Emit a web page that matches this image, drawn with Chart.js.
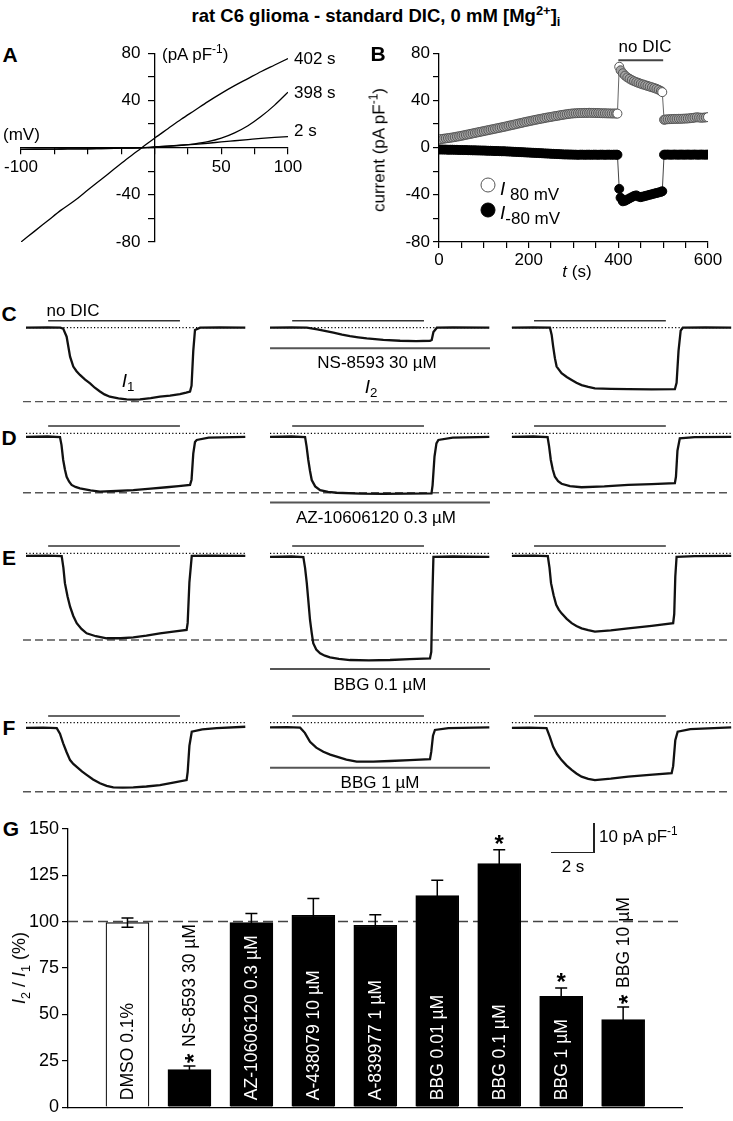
<!DOCTYPE html>
<html>
<head>
<meta charset="utf-8">
<title>rat C6 glioma - standard DIC, 0 mM Mg</title>
<script src="https://cdn.jsdelivr.net/npm/chart.js"></script>
<style>
  body { margin: 0; background: #fff; }
  #fig { position: relative; width: 733px; height: 1121px; overflow: hidden;
         font-family: 'Liberation Sans', Arial, sans-serif; color: #000; }
  #fig canvas { position: absolute; }
  .t { position: absolute; white-space: nowrap; font-size: 17px; line-height: 1; }
  .c { transform: translate(-50%, -50%); }
  .l { transform: translate(0, -50%); }
  .rot { transform: translate(-50%, -50%) rotate(-90deg); }
  .pl { font-weight: bold; font-size: 21px; }
  sup, sub { font-size: 70%; line-height: 0; }
  .ln { position: absolute; background: #222; }
  .dot { position: absolute; width: 13px; height: 13px; border-radius: 50%; transform: translate(-50%, -50%); }
</style>
</head>
<body>
<div id="fig">
  <div class="t c" style="left:376px;top:16px;font-weight:bold;font-size:18.5px;">rat C6 glioma - standard DIC, 0 mM [Mg<sup>2+</sup>]<sub>i</sub></div>

  <!-- A -->
  <div class="t c pl" style="left:10px;top:54px;">A</div>
  <canvas id="chartA" width="330" height="230" style="left:0;top:40px;"></canvas>
  <div class="t l" style="left:162px;top:54px;">(pA pF<sup>-1</sup>)</div>
  <div class="t l" style="left:3px;top:134px;">(mV)</div>
  <div class="t l" style="left:294px;top:58px;">402 s</div>
  <div class="t l" style="left:294px;top:92px;">398 s</div>
  <div class="t l" style="left:294px;top:130px;">2 s</div>

  <!-- B -->
  <div class="t c pl" style="left:378px;top:53px;">B</div>
  <canvas id="chartB" width="373" height="260" style="left:360px;top:40px;"></canvas>
  <div class="t c" style="left:645px;top:46px;">no DIC</div>
  <div class="t rot" style="left:379px;top:150px;">current (pA pF<sup>-1</sup>)</div>
  <div class="t c" style="left:577px;top:271px;"><i>t</i> (s)</div>
  <div class="dot" style="left:488px;top:185px;background:#fff;border:1.5px solid #555;"></div>
  <div class="t l" style="left:500px;top:188px;"><i style="font-size:19px;">I</i><span style="font-size:17px;position:relative;top:5px;"> 80 mV</span></div>
  <div class="dot" style="left:488px;top:210px;background:#000;border:1.5px solid #000;"></div>
  <div class="t l" style="left:500px;top:212px;"><i style="font-size:19px;">I</i><span style="font-size:17px;position:relative;top:5px;">-80 mV</span></div>

  <!-- C - F -->
  <div class="t c pl" style="left:9px;top:313px;">C</div>
  <div class="t c pl" style="left:9px;top:437px;">D</div>
  <div class="t c pl" style="left:9px;top:557px;">E</div>
  <div class="t c pl" style="left:9px;top:727px;">F</div>
  <canvas id="rowC" width="733" height="115" style="left:0;top:300px;"></canvas>
  <canvas id="rowD" width="733" height="110" style="left:0;top:415px;"></canvas>
  <canvas id="rowE" width="733" height="140" style="left:0;top:535px;"></canvas>
  <canvas id="rowF" width="733" height="100" style="left:0;top:700px;"></canvas>
  <div class="t c" style="left:73px;top:310px;">no DIC</div>
  <div class="t c" style="left:128px;top:380px;font-size:19px;"><i>I</i><sub>1</sub></div>
  <div class="t c" style="left:377px;top:362px;">NS-8593 30 µM</div>
  <div class="t c" style="left:371px;top:386px;font-size:19px;"><i>I</i><sub>2</sub></div>
  <div class="t c" style="left:376px;top:517px;">AZ-10606120 0.3 µM</div>
  <div class="t c" style="left:380px;top:684px;">BBG 0.1 µM</div>
  <div class="t c" style="left:380px;top:782px;">BBG 1 µM</div>

  <!-- G -->
  <div class="t c pl" style="left:11px;top:828px;">G</div>
  <canvas id="chartG" width="733" height="306" style="left:0;top:815px;"></canvas>
  <div class="t rot" style="left:19px;top:968px;font-size:18px;"><i>I</i><sub>2</sub> / <i>I</i><sub>1</sub> (%)</div>
  <div class="ln" style="left:593px;top:823px;width:1.5px;height:30px;"></div>
  <div class="ln" style="left:551px;top:851.5px;width:44px;height:1.5px;"></div>
  <div class="t l" style="left:599px;top:836px;">10 pA pF<sup>-1</sup></div>
  <div class="t c" style="left:573px;top:866px;">2 s</div>
</div>

<script>
// ---- A: I-V relations from voltage ramps
const ivVoltage = [-100, -90, -80, -70, -60, -50, -40, -30, -20, -10, 0, 10, 20, 30, 40, 50, 60, 70, 80, 90, 100];
const iv402 = [-80, -71, -62, -53, -45, -36, -27, -18, -9, -0.5, 8, 16, 24, 31.5, 39, 46, 52.5, 58.5, 64.5, 70, 75.5];
const iv398 = [-1.5, -1.4, -1.3, -1.2, -1.1, -1.0, -0.8, -0.6, -0.4, -0.2, 0.5, 1.2, 2.0, 3.2, 5.0, 8.0, 12.5, 18.5, 26.5, 36, 47];
const iv2 = [-1.5, -1.4, -1.3, -1.2, -1.1, -1.0, -0.8, -0.6, -0.4, -0.2, 0.5, 1.2, 2.0, 2.8, 3.7, 4.8, 5.8, 6.8, 7.8, 8.6, 9.3];

// ---- B: time course at +80 and -80 mV
const tB = [
  0, 5, 10, 15, 20, 25, 30, 35, 40, 45,
  50, 55, 60, 65, 70, 75, 80, 85, 90, 95,
  100, 105, 110, 115, 120, 125, 130, 135, 140, 145,
  150, 155, 160, 165, 170, 175, 180, 185, 190, 195,
  200, 205, 210, 215, 220, 225, 230, 235, 240, 245,
  250, 255, 260, 265, 270, 275, 280, 285, 290, 295,
  300, 305, 310, 315, 320, 325, 330, 335, 340, 345,
  350, 355, 360, 365, 370, 375, 380, 385, 390, 395,
  398, 402,
  405, 410, 415, 420, 425, 430, 435, 440, 445, 450, 455, 460, 465, 470, 475, 480, 485, 490, 495,
  498, 502,
  505, 510, 515, 520, 525, 530, 535, 540, 545, 550, 555, 560, 565, 570, 575, 580, 585, 590, 595,
  600
];
const i80 = [
  7.0, 7.2, 7.5, 7.8, 8.0, 8.3, 8.6, 8.9, 9.3, 9.6,
  10.0, 10.4, 10.8, 11.2, 11.6, 12.0, 12.4, 12.8, 13.2, 13.6,
  14.0, 14.4, 14.8, 15.2, 15.6, 16.0, 16.4, 16.8, 17.2, 17.6,
  18.0, 18.5, 18.9, 19.3, 19.7, 20.2, 20.6, 21.0, 21.5, 21.9,
  22.3, 22.7, 23.1, 23.5, 23.9, 24.3, 24.6, 25.0, 25.4, 25.7,
  26.0, 26.4, 26.7, 27.0, 27.4, 27.7, 28.0, 28.3, 28.6, 28.8,
  29.0, 29.1, 29.2, 29.3, 29.3, 29.4, 29.4, 29.5, 29.4, 29.4,
  29.3, 29.3, 29.2, 29.1, 29.1, 29.0, 29.0, 28.9, 28.9, 28.9,
  28.8, 68.5,
  65.5, 63.0, 61.0, 59.5, 58.3, 57.2, 56.3, 55.5, 54.8, 54.1, 53.5, 52.9, 52.3, 51.7, 51.1, 50.5, 49.8, 49.0, 48.0,
  47.0, 23.6,
  23.8, 24.0, 24.1, 24.2, 24.3, 24.3, 24.4, 24.4, 24.5, 24.6, 24.7, 24.9, 25.1, 25.4, 25.7, 25.5, 25.3, 25.4, 25.6,
  25.8
];
const iMinus80 = [
  -1.6, -1.6, -1.7, -1.7, -1.8, -1.8, -1.8, -1.9, -1.9, -2.0,
  -2.0, -2.1, -2.1, -2.2, -2.2, -2.3, -2.3, -2.4, -2.4, -2.5,
  -2.5, -2.6, -2.7, -2.7, -2.8, -2.9, -2.9, -3.0, -3.1, -3.1,
  -3.2, -3.3, -3.4, -3.5, -3.6, -3.7, -3.8, -3.9, -4.0, -4.1,
  -4.2, -4.3, -4.4, -4.5, -4.6, -4.7, -4.8, -4.9, -5.0, -5.1,
  -5.2, -5.3, -5.4, -5.5, -5.6, -5.7, -5.8, -5.8, -5.9, -5.9,
  -6.0, -6.0, -6.1, -6.0, -6.0, -6.1, -6.0, -6.0, -6.1, -6.0,
  -6.0, -6.1, -6.0, -6.0, -6.1, -6.0, -6.0, -6.1, -6.0, -6.0,
  -6.1, -35.0,
  -42.5, -45.5, -45.0, -44.0, -43.0, -42.0, -41.0, -40.5, -41.5, -42.0, -41.5, -41.0, -40.5, -40.0, -39.5, -39.0, -38.5, -38.0, -37.5,
  -37.0, -6.0,
  -6.0, -5.9, -6.0, -6.0, -5.9, -6.0, -6.0, -5.9, -6.0, -6.0, -5.9, -6.0, -6.0, -5.9, -6.0, -6.0, -5.9, -6.0, -6.0,
  -5.9
];
const rampTimes = [398, 402, 498, 600];   // open symbols
const noDicPeriod = [400, 500];

// ---- C-F: current traces at -80 mV, [time (s), pA/pF]
const traceC1 = [[0, 0], [1.0, 0.1], [1.6, 0], [1.73, -0.3], [1.89, -3.1], [2.05, -10], [2.2, -13.4], [2.35, -15], [2.51, -16.3], [2.75, -17.9], [2.98, -19.2], [3.2, -20.7], [3.44, -22], [3.65, -23], [3.9, -23.8], [4.3, -24.4], [4.68, -24.7], [5.0, -24.8], [5.3, -24.7], [5.8, -24.3], [6.23, -23.8], [6.7, -23.4], [7.16, -22.9], [7.45, -22.4], [7.63, -22], [7.7, -20], [7.78, -8], [7.86, -0.8], [8.1, 0], [9, 0.1], [10.2, 0]];
const traceC2 = [[0, 0], [1.0, 0.1], [1.71, 0], [2.2, -0.6], [2.95, -1.7], [3.35, -2.4], [3.72, -2.9], [4.1, -3.3], [4.5, -3.7], [5.27, -4.2], [6.05, -4.5], [6.8, -4.6], [7.44, -4.5], [7.52, -4.2], [7.6, -1.5], [7.76, 0], [8.5, 0.1], [10.2, 0]];
const traceC3 = [[0, 0], [1.0, 0.1], [1.77, 0], [1.85, -2.5], [1.92, -6.5], [2.0, -10.5], [2.08, -13.4], [2.31, -15.7], [2.55, -17], [2.78, -18], [3.0, -19], [3.24, -19.8], [3.55, -20.4], [3.86, -20.9], [4.6, -21.1], [5.41, -21.2], [6.5, -21.3], [7.58, -21.2], [7.66, -19], [7.75, -8], [7.85, -1], [7.95, 0], [9, 0.1], [10.2, 0]];
const traceD1 = [[0, -1.2], [1.0, -1.1], [1.58, -1.3], [1.65, -4], [1.73, -9.2], [1.81, -12.5], [1.89, -15], [2.0, -16.6], [2.12, -17.8], [2.3, -18.5], [2.51, -19], [3.0, -19.7], [3.44, -20.1], [4.2, -19.9], [4.99, -19.6], [5.8, -19.1], [6.54, -18.6], [7.1, -18.2], [7.63, -17.8], [7.7, -16], [7.78, -7], [7.86, -3], [7.94, -2.3], [8.5, -1.5], [10.2, -1.2]];
const traceD2 = [[0, -1.2], [1.0, -1.1], [1.63, -1.3], [1.7, -4.5], [1.78, -9.2], [1.86, -13], [1.94, -16.1], [2.1, -18.3], [2.33, -19.6], [2.7, -20.2], [3.1, -20.5], [4.2, -20.8], [5.27, -20.9], [6.4, -20.8], [7.51, -20.7], [7.56, -18], [7.65, -8], [7.74, -3.5], [7.83, -2.3], [8.5, -1.5], [10.2, -1.2]];
const traceD3 = [[0, -1.2], [1.0, -1.1], [1.66, -1.3], [1.73, -4.5], [1.81, -9.2], [1.9, -12.5], [2.0, -15], [2.15, -16.5], [2.31, -17.4], [2.7, -18.2], [3.24, -18.6], [4.3, -18.3], [5.41, -17.8], [6.5, -17.5], [7.58, -17.2], [7.63, -15], [7.7, -6], [7.81, -1.7], [8.5, -1.3], [10.2, -1.2]];
const traceE1 = [[0, -0.9], [1.0, -0.8], [1.66, -1.0], [1.74, -5], [1.81, -10.3], [1.93, -14.8], [2.05, -18.4], [2.2, -21.6], [2.36, -24.1], [2.58, -26.1], [2.82, -27.6], [3.25, -28.6], [3.75, -29.3], [4.4, -29.3], [4.99, -29], [5.6, -28.4], [6.23, -27.6], [6.85, -27], [7.47, -26.4], [7.52, -24], [7.6, -10], [7.71, -0.9], [8.5, -0.8], [10.2, -0.9]];
const traceE2 = [[0, -1.2], [1.0, -1.1], [1.55, -1.3], [1.63, -5], [1.71, -10.3], [1.79, -17], [1.86, -23], [1.94, -27.5], [2.01, -31], [2.15, -33.2], [2.33, -34.5], [2.55, -35.3], [2.79, -35.9], [3.2, -36.4], [3.72, -36.8], [4.6, -36.9], [5.58, -36.8], [6.5, -36.5], [7.44, -36.2], [7.5, -34], [7.55, -15], [7.6, -1.2], [8.5, -1.1], [10.2, -1.2]];
const traceE3 = [[0, -0.9], [1.0, -0.8], [1.67, -1.0], [1.75, -5], [1.82, -10.3], [1.94, -14.5], [2.06, -17.8], [2.18, -19.4], [2.31, -20.7], [2.55, -22.6], [2.78, -24.1], [3.0, -25.1], [3.24, -25.9], [3.55, -26.5], [3.86, -27], [4.6, -26.6], [5.41, -25.9], [6.5, -25], [7.5, -24.1], [7.55, -21], [7.6, -8], [7.66, -1.2], [8.5, -1.0], [10.2, -0.9]];
const traceF1 = [[0, -1.8], [0.8, -1.7], [1.43, -1.9], [1.58, -3.8], [1.73, -7.1], [1.89, -10.2], [2.05, -12.9], [2.2, -14.2], [2.36, -15.2], [2.6, -16.8], [2.82, -18], [3.12, -19.6], [3.44, -20.9], [3.75, -21.8], [4.06, -22.3], [4.5, -22.4], [4.99, -22.3], [5.6, -22], [6.23, -21.5], [6.85, -20.7], [7.47, -19.8], [7.52, -17], [7.6, -8], [7.71, -3.1], [8.2, -2.3], [8.87, -1.9], [10.2, -1.4]];
const traceF2 = [[0, -1.6], [0.8, -1.5], [1.4, -1.7], [1.62, -3.5], [1.86, -6.6], [2.15, -8.6], [2.48, -10], [2.8, -11], [3.1, -11.7], [3.55, -12.7], [4.03, -13.4], [4.8, -13.4], [5.58, -13.2], [6.5, -12.9], [7.44, -12.6], [7.5, -10], [7.58, -4.5], [7.67, -2.5], [8.3, -1.9], [10.2, -1.6]];
const traceF3 = [[0, -1.8], [0.8, -1.7], [1.61, -1.9], [1.76, -4.8], [1.92, -8.3], [2.1, -10.8], [2.31, -12.9], [2.55, -14.8], [2.78, -16.3], [3.0, -17.5], [3.24, -18.6], [3.55, -19.4], [3.86, -19.8], [4.6, -19.3], [5.41, -18.6], [6.4, -18], [7.43, -17.4], [7.5, -15], [7.6, -6], [7.71, -3.1], [8.3, -2.2], [10.2, -1.6]];
const noDicTrace = [1.03, 7.16];   // s, bar above each trace
const traceDuration = 10.23;       // s

// ---- G: summary I2/I1
const gLabels = ['DMSO 0.1%', 'NS-8593 30 µM', 'AZ-10606120 0.3 µM', 'A-438079 10 µM', 'A-839977 1 µM', 'BBG 0.01 µM', 'BBG 0.1 µM', 'BBG 1 µM', 'BBG 10 µM'];
const gMeans = [99.5, 20.3, 99.5, 103.4, 98.0, 114.0, 131.3, 59.7, 47.2];
const gSem = [2.5, 1.9, 4.8, 9.0, 5.7, 8.3, 7.4, 4.5, 6.8];
const gSignificant = [false, true, false, false, false, false, true, true, true];

Chart.defaults.font.family = "'Liberation Sans', Arial, sans-serif";
Chart.defaults.color = '#000';
Chart.defaults.animation = false;
Chart.defaults.plugins.legend.display = false;
Chart.defaults.plugins.tooltip.enabled = false;
Chart.defaults.responsive = false;

const xy = (xs, ys) => xs.map((x, i) => ({ x: x, y: ys[i] }));
const axisBorder = { display: true, color: '#000', width: 1.3 };
const outTicks = { drawOnChartArea: false, tickLength: 6, color: '#000', lineWidth: 1.2 };

// ---- A
new Chart(document.getElementById('chartA'), {
  type: 'line',
  data: {
    datasets: [iv2, iv398, iv402].map(ys => ({
      data: xy(ivVoltage, ys), borderColor: '#000', borderWidth: 1.3, pointRadius: 0, cubicInterpolationMode: 'monotone'
    }))
  },
  options: {
    layout: { padding: { left: 20, right: 42, top: 11, bottom: 28 } },
    scales: {
      x: {
        type: 'linear', min: -100, max: 100, position: { y: 0 },
        border: axisBorder, grid: outTicks,
        ticks: { stepSize: 25, autoSkip: false, maxRotation: 0, padding: 4, font: { size: 17 },
                 callback: v => (v === -100 || v === 50 || v === 100) ? v : '' }
      },
      y: {
        type: 'linear', min: -80, max: 80, position: { x: 0 },
        border: axisBorder, grid: outTicks,
        // labels sit right-aligned on the axis here, pad them off it
        ticks: { stepSize: 20, autoSkip: false, font: { size: 17 },
                 callback: v => (Math.abs(v) === 40 || Math.abs(v) === 80) ? v + '   ' : '' }
      }
    }
  }
});

// ---- B
new Chart(document.getElementById('chartB'), {
  type: 'line',
  data: {
    datasets: [
      {
        data: xy(noDicPeriod, [74, 74]), borderColor: '#444', borderWidth: 2, pointRadius: 0
      },
      {
        data: xy(tB, i80), borderColor: '#666', borderWidth: 1, tension: 0,
        pointRadius: 4.5, pointBorderWidth: 1, pointBorderColor: '#555',
        pointBackgroundColor: tB.map(t => rampTimes.includes(t) ? '#fff' : '#a3a3a3')
      },
      {
        data: xy(tB, iMinus80), borderColor: '#444', borderWidth: 1, tension: 0,
        pointRadius: 4.5, pointBorderWidth: 1, pointBorderColor: '#000', pointBackgroundColor: '#000'
      }
    ]
  },
  options: {
    layout: { padding: { left: 0, right: 25, top: 11, bottom: 0 } },
    scales: {
      x: {
        type: 'linear', min: 0, max: 600,
        border: axisBorder, grid: outTicks,
        afterFit: s => { s.height = 58; },
        ticks: { stepSize: 50, autoSkip: false, maxRotation: 0, padding: 2, font: { size: 17 },
                 callback: v => v % 200 === 0 ? v : '' }
      },
      y: {
        type: 'linear', min: -80, max: 80,
        border: axisBorder, grid: outTicks,
        afterFit: s => { s.width = 79; },
        ticks: { stepSize: 20, autoSkip: false, padding: 3, font: { size: 17 },
                 callback: v => v % 40 === 0 ? v : '' }
      }
    }
  }
});

// ---- C-F
const pxPerSec = 21.5, pxPerUnit = 2.9, traceOriginPx = 26;
const colOffset = [0, 11.35, 22.6];
const rows = [
  { id: 'rowC', top: 300, height: 115, zeroPx: 327.7, dicLevel: 2.4, drugLevel: -7.1, peakLevel: -25.5, traces: [traceC1, traceC2, traceC3] },
  { id: 'rowD', top: 415, height: 110, zeroPx: 433.3, dicLevel: 2.5, drugLevel: -23.9, peakLevel: -20.5, traces: [traceD1, traceD2, traceD3] },
  { id: 'rowE', top: 535, height: 140, zeroPx: 553.3, dicLevel: 2.5, drugLevel: -39.9, peakLevel: -29.9, traces: [traceE1, traceE2, traceE3] },
  { id: 'rowF', top: 700, height: 100, zeroPx: 722.7, dicLevel: 2.3, drugLevel: -15.5, peakLevel: -23.8, traces: [traceF1, traceF2, traceF3] }
];

rows.forEach(row => {
  const yMax = (row.zeroPx - row.top) / pxPerUnit;
  const yMin = yMax - row.height / pxPerUnit;
  const seg = (x0, x1, y) => [{ x: x0, y: y }, { x: x1, y: y }];
  const datasets = [];
  datasets.push({ data: seg(-0.14, 32.74, row.peakLevel), borderColor: '#555', borderWidth: 1.4, borderDash: [8, 4], pointRadius: 0, order: 5 });
  colOffset.forEach(off => {
    datasets.push({ data: seg(off, off + traceDuration, 0), borderColor: '#000', borderWidth: 1.3, borderDash: [1.2, 2.2], pointRadius: 0, order: 4 });
    datasets.push({ data: seg(off + noDicTrace[0], off + noDicTrace[1], row.dicLevel), borderColor: '#333', borderWidth: 1.5, pointRadius: 0, order: 3 });
  });
  datasets.push({ data: seg(colOffset[1], colOffset[1] + traceDuration, row.drugLevel), borderColor: '#555', borderWidth: 2, pointRadius: 0, order: 3 });
  row.traces.forEach((tr, c) => {
    datasets.push({
      data: tr.map(p => ({ x: p[0] + colOffset[c], y: p[1] })),
      borderColor: '#111', borderWidth: 2.3, pointRadius: 0, tension: 0, order: 0
    });
  });
  new Chart(document.getElementById(row.id), {
    type: 'line',
    data: { datasets: datasets },
    options: {
      layout: { padding: 0 },
      scales: {
        x: { type: 'linear', display: false, min: -traceOriginPx / pxPerSec, max: (733 - traceOriginPx) / pxPerSec },
        y: { type: 'linear', display: false, min: yMin, max: yMax }
      }
    }
  });
});

// ---- G
const labelFont = "17.5px 'Liberation Sans', Arial, sans-serif";
const starFont = "bold 24px 'Liberation Sans', Arial, sans-serif";
const gAnnotations = {
  id: 'gAnnotations',
  afterDatasetsDraw(chart) {
    const ctx = chart.ctx;
    const y = chart.scales.y;
    const base = chart.chartArea.bottom;
    const bars = chart.getDatasetMeta(0).data;
    ctx.save();
    bars.forEach((bar, i) => {
      const top = y.getPixelForValue(gMeans[i] + gSem[i]);
      const low = y.getPixelForValue(gMeans[i] - gSem[i]);
      ctx.strokeStyle = '#000';
      ctx.lineWidth = 1.5;
      ctx.beginPath();
      ctx.moveTo(bar.x, low); ctx.lineTo(bar.x, top);
      ctx.moveTo(bar.x - 6, top); ctx.lineTo(bar.x + 6, top);
      ctx.moveTo(bar.x - 6, low); ctx.lineTo(bar.x + 6, low);
      ctx.stroke();

      ctx.font = labelFont;
      const w = ctx.measureText(gLabels[i]).width;
      const inside = (base - bar.y) > w + 14;
      ctx.save();
      ctx.textAlign = 'left';
      if (inside) {
        ctx.fillStyle = i === 0 ? '#000' : '#fff';
        ctx.translate(bar.x + 1, base - 7);
        ctx.rotate(-Math.PI / 2);
        ctx.textBaseline = 'middle';
        ctx.fillText(gLabels[i], 0, 0);
      } else {
        // label above a short bar, star leads it
        ctx.fillStyle = '#000';
        ctx.translate(bar.x + 1, top - 3);
        ctx.rotate(-Math.PI / 2);
        let x0 = 0;
        if (gSignificant[i]) {
          ctx.font = starFont;
          ctx.textBaseline = 'alphabetic';
          ctx.fillText('*', 0, 12);
          x0 = ctx.measureText('* ').width;
          ctx.font = labelFont;
        }
        ctx.textBaseline = 'middle';
        ctx.fillText(gLabels[i], x0, 0);
      }
      ctx.restore();

      if (inside && gSignificant[i]) {
        ctx.font = starFont;
        ctx.fillStyle = '#000';
        ctx.textAlign = 'center';
        ctx.textBaseline = 'alphabetic';
        ctx.fillText('*', bar.x, top + 2);
      }
    });
    ctx.restore();
  }
};

new Chart(document.getElementById('chartG'), {
  type: 'bar',
  data: {
    datasets: [
      {
        type: 'bar',
        data: gMeans.map((m, i) => ({ x: i + 1, y: m })),
        backgroundColor: gMeans.map((m, i) => i === 0 ? '#fff' : '#000'),
        borderColor: '#000', borderWidth: 1.2, barThickness: 43, order: 0
      },
      {
        type: 'line',
        data: [{ x: 0.04, y: 100 }, { x: 9.95, y: 100 }],
        borderColor: '#444', borderWidth: 1.5, borderDash: [10, 5], pointRadius: 0, order: 1
      }
    ]
  },
  options: {
    layout: { padding: { left: 0, right: 51, top: 13, bottom: 0 } },
    scales: {
      x: {
        type: 'linear', min: 0.04, max: 9.95, offset: false,
        border: axisBorder, grid: { display: false }, ticks: { display: false },
        afterFit: s => { s.height = 7; }
      },
      y: {
        min: 0, max: 150,
        border: axisBorder, grid: outTicks,
        afterFit: s => { s.width = 68; },
        ticks: { stepSize: 25, padding: 3, font: { size: 18 } }
      }
    }
  },
  plugins: [gAnnotations]
});
</script>
</body>
</html>
